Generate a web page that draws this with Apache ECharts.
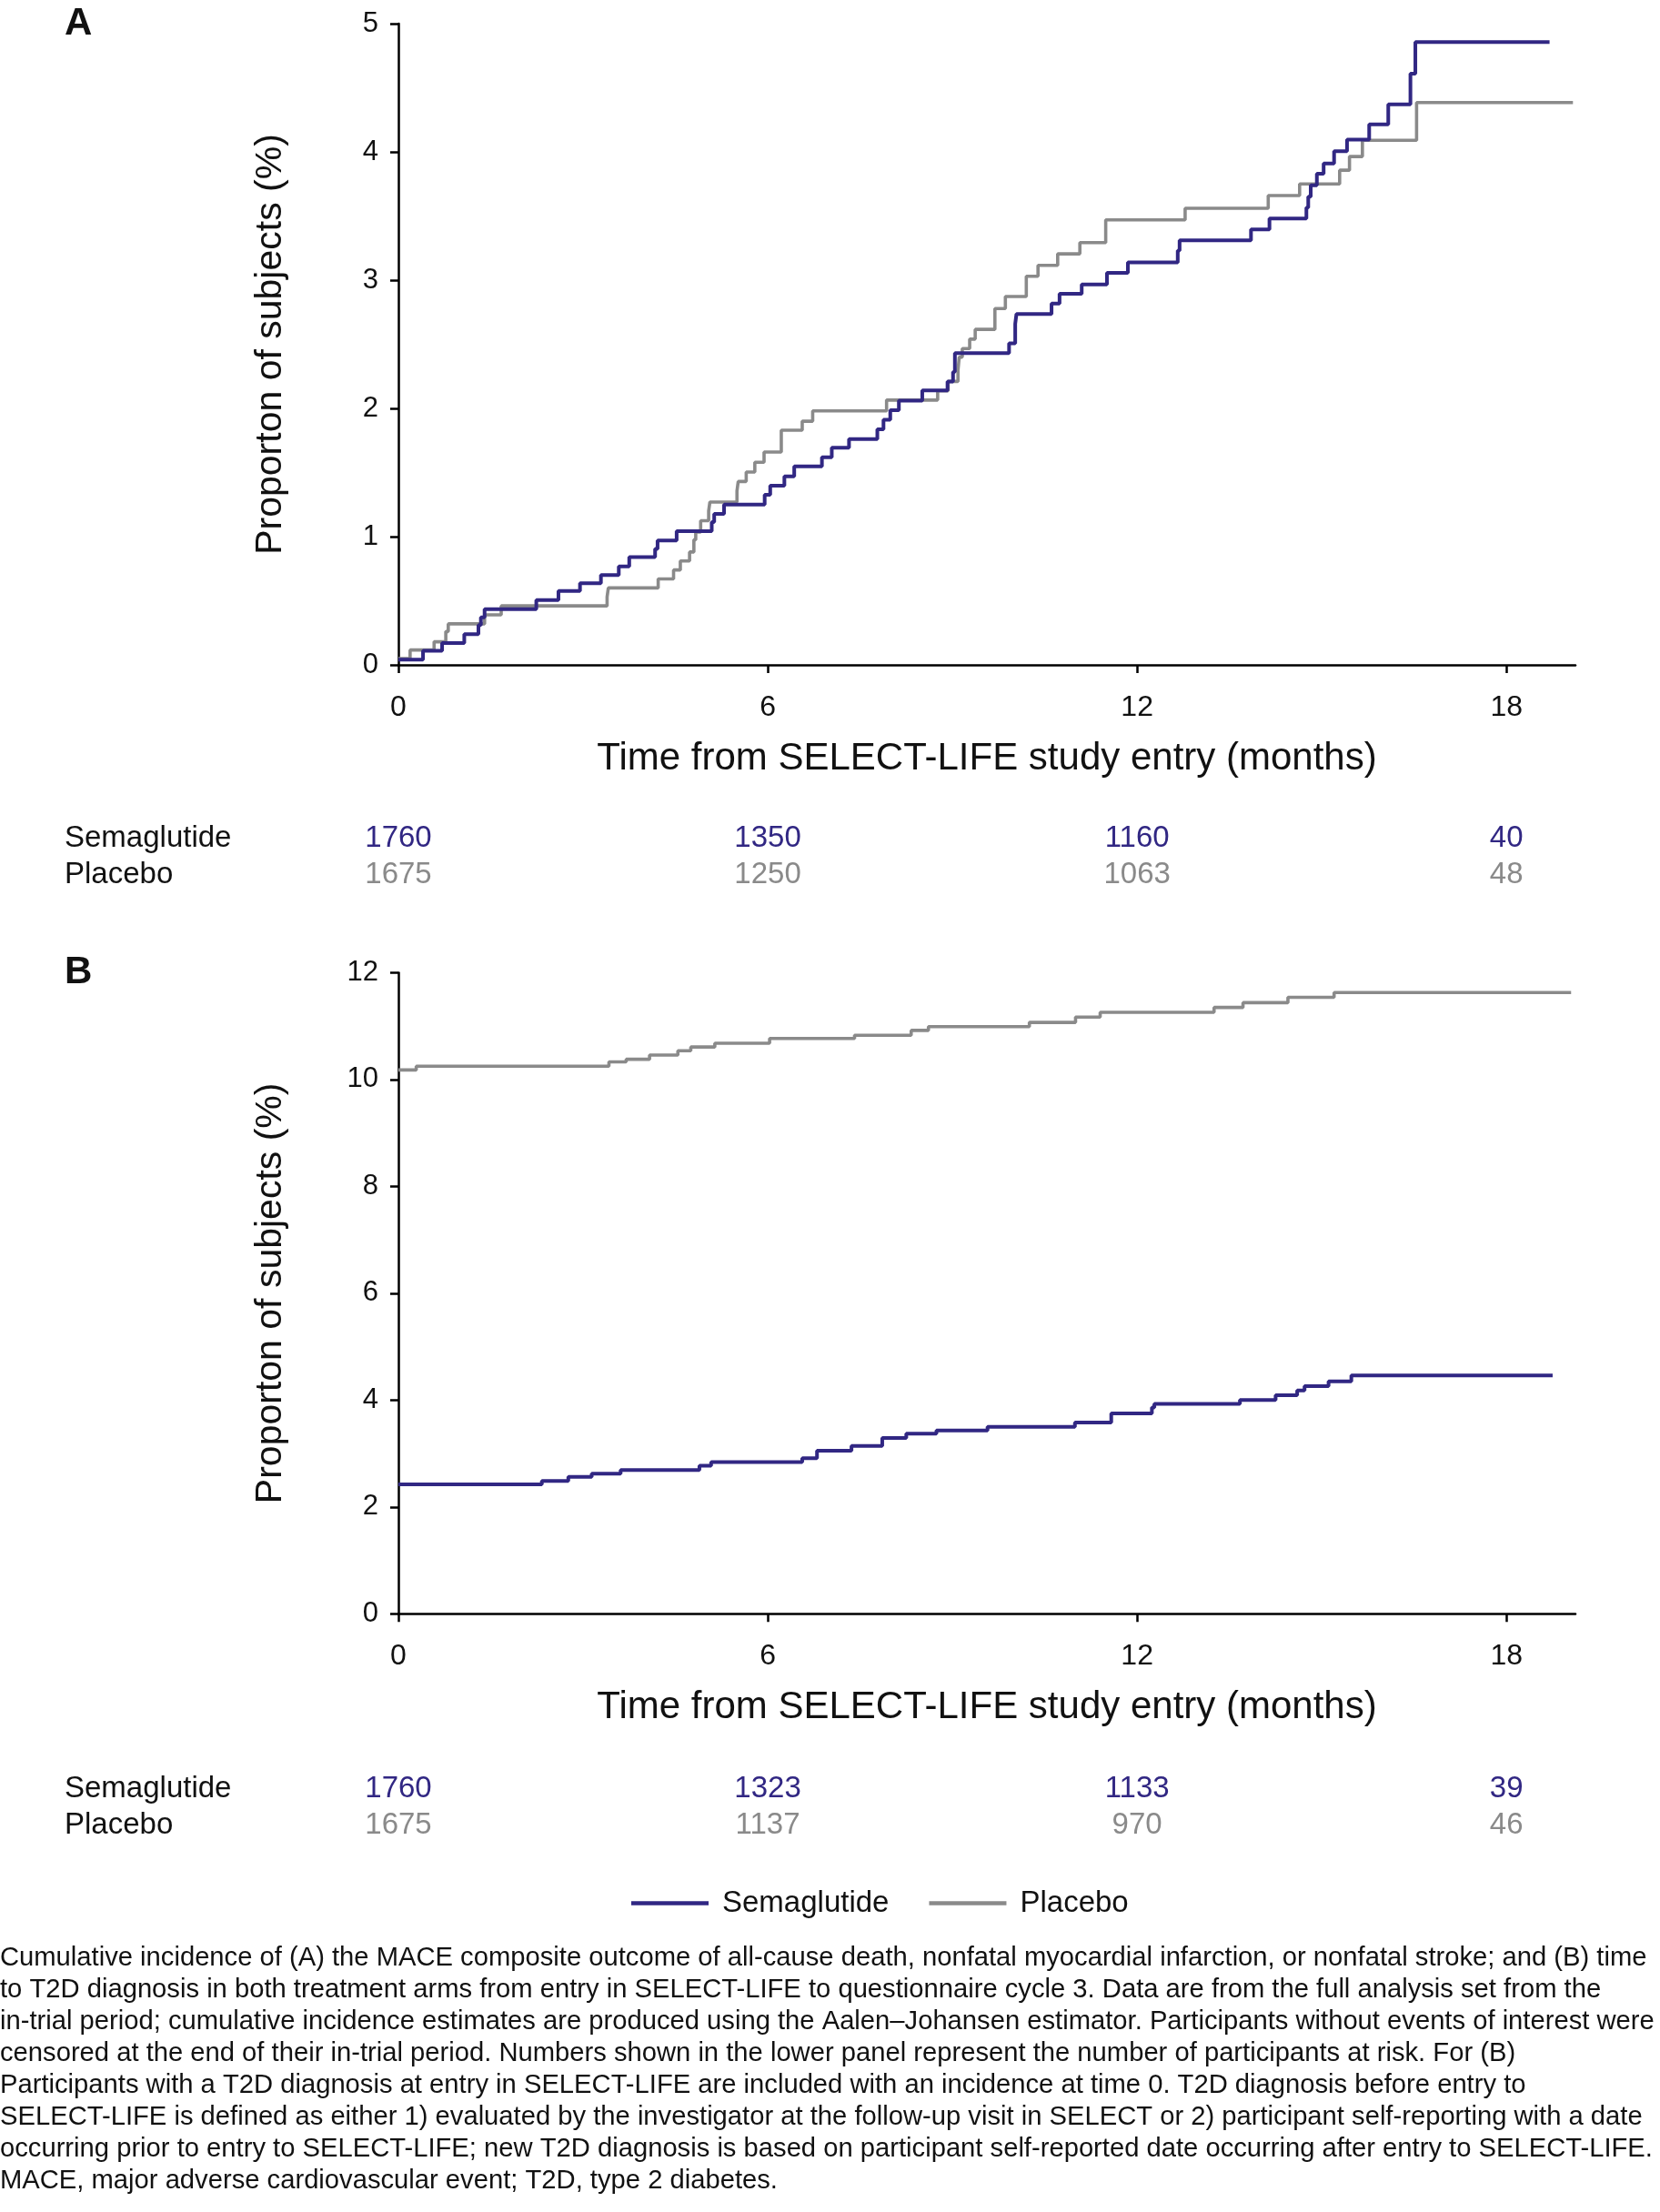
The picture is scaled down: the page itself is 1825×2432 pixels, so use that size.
<!DOCTYPE html>
<html>
<head>
<meta charset="utf-8">
<script src="https://cdn.jsdelivr.net/npm/echarts@6/dist/echarts.min.js"></script>
<style>
html,body{margin:0;padding:0;background:#fff;}
#chart{width:1825px;height:2432px;}
</style>
</head>
<body>
<div id="chart"></div>
<script>
// ---- data ----
const months = [0, 6, 12, 18];
const seriesNames = ['Semaglutide', 'Placebo'];

// Panel A: cumulative incidence of MACE (%), [month, value]
const semaA = [[0,0.04],[0.40,0.11],[0.71,0.17],[1.07,0.24],[1.30,0.31],[1.34,0.37],[1.40,0.435],[2.24,0.506],[2.60,0.577],[2.95,0.637],[3.29,0.70],[3.58,0.768],[3.75,0.84],[4.17,0.905],[4.21,0.97],[4.52,1.043],[5.09,1.114],[5.13,1.178],[5.29,1.25],[5.95,1.326],[6.04,1.397],[6.27,1.47],[6.43,1.547],[6.88,1.618],[7.04,1.694],[7.32,1.76],[7.78,1.837],[7.88,1.912],[7.99,1.986],[8.13,2.06],[8.51,2.14],[8.92,2.21],[9.01,2.283],[9.04,2.43],[9.92,2.507],[10.02,2.66],[10.04,2.735],[10.61,2.818],[10.74,2.894],[11.10,2.967],[11.51,3.056],[11.85,3.138],[12.66,3.23],[12.69,3.31],[13.85,3.395],[14.15,3.48],[14.75,3.566],[14.78,3.65],[14.82,3.74],[14.92,3.83],[15.03,3.91],[15.20,4.006],[15.41,4.096],[15.77,4.215],[16.08,4.37],[16.44,4.61],[16.52,4.856],[18.70,4.856]];
const placA = [[0,0.05],[0.19,0.116],[0.58,0.18],[0.77,0.26],[0.81,0.32],[1.40,0.39],[1.67,0.46],[3.39,0.53],[3.41,0.60],[4.22,0.67],[4.47,0.74],[4.58,0.81],[4.73,0.88],[4.80,0.976],[4.83,1.036],[4.91,1.124],[5.04,1.20],[5.06,1.27],[5.50,1.356],[5.52,1.43],[5.65,1.504],[5.79,1.58],[5.94,1.66],[6.22,1.83],[6.56,1.90],[6.73,1.98],[7.93,2.065],[8.76,2.136],[8.93,2.21],[9.09,2.295],[9.11,2.40],[9.16,2.466],[9.28,2.54],[9.37,2.616],[9.69,2.778],[9.86,2.872],[10.20,3.03],[10.39,3.115],[10.71,3.205],[11.07,3.293],[11.49,3.47],[12.78,3.56],[14.13,3.66],[14.64,3.75],[15.29,3.857],[15.45,3.964],[15.66,4.09],[16.54,4.385],[19.08,4.385]];

// Panel B: time to T2D diagnosis (%), [month, value]
const semaB = [[0,2.42],[2.33,2.486],[2.76,2.56],[3.14,2.62],[3.61,2.69],[4.89,2.77],[5.08,2.84],[6.56,2.91],[6.80,3.05],[7.36,3.14],[7.86,3.29],[8.25,3.37],[8.74,3.43],[9.57,3.50],[10.99,3.58],[11.58,3.75],[12.24,3.86],[12.28,3.93],[13.67,4.0],[14.25,4.09],[14.60,4.18],[14.72,4.26],[15.11,4.35],[15.48,4.46],[18.75,4.46]];
const placB = [[0,10.18],[0.29,10.25],[3.42,10.33],[3.70,10.38],[4.08,10.46],[4.54,10.54],[4.75,10.61],[5.14,10.68],[6.03,10.77],[7.41,10.83],[8.33,10.92],[8.61,10.99],[10.25,11.07],[11.0,11.17],[11.4,11.26],[13.25,11.35],[13.72,11.44],[14.45,11.54],[15.2,11.63],[19.05,11.63]];

// Numbers at risk
const riskA_sema = [1760, 1350, 1160, 40];
const riskA_plac = [1675, 1250, 1063, 48];
const riskB_sema = [1760, 1323, 1133, 39];
const riskB_plac = [1675, 1137, 970, 46];

// Axis ticks
const yTicksA = {min: 0, max: 5, interval: 1};
const yTicksB = {min: 0, max: 12, interval: 2};
const xMax = 19.12;

const yTitle = 'Proporton of subjects (%)';
const xTitle = 'Time from SELECT-LIFE study entry (months)';
const captionLines = [
 'Cumulative incidence of (A) the MACE composite outcome of all-cause death, nonfatal myocardial infarction, or nonfatal stroke; and (B) time',
 'to T2D diagnosis in both treatment arms from entry in SELECT-LIFE to questionnaire cycle 3. Data are from the full analysis set from the',
 'in-trial period; cumulative incidence estimates are produced using the Aalen\u2013Johansen estimator. Participants without events of interest were',
 'censored at the end of their in-trial period. Numbers shown in the lower panel represent the number of participants at risk. For (B)',
 'Participants with a T2D diagnosis at entry in SELECT-LIFE are included with an incidence at time 0. T2D diagnosis before entry to',
 'SELECT-LIFE is defined as either 1) evaluated by the investigator at the follow-up visit in SELECT or 2) participant self-reporting with a date',
 'occurring prior to entry to SELECT-LIFE; new T2D diagnosis is based on participant self-reported date occurring after entry to SELECT-LIFE.',
 'MACE, major adverse cardiovascular event; T2D, type 2 diabetes.'
];

// ---- styles ----
const FONT = '"Liberation Sans", Arial, Helvetica, sans-serif';
const BLUE = '#312783';
const GRAY = '#8a8a8a';
const TXT = '#111111';
const GL = 438, GW = 1294;

function xAxisMain(gi) {
  return {
    type: 'value', gridIndex: gi, min: 0, max: xMax,
    axisLine: {show: true, lineStyle: {color: '#000', width: 2.5}},
    axisTick: {show: true, length: 9, lineStyle: {color: '#000', width: 2.5}, customValues: months},
    axisLabel: {customValues: months, fontSize: 32, margin: 31, color: TXT, fontFamily: FONT},
    splitLine: {show: false},
    name: xTitle, nameLocation: 'middle', nameGap: 82,
    nameTextStyle: {fontSize: 42, color: TXT, fontFamily: FONT}
  };
}
function yAxisMain(gi, t) {
  return {
    type: 'value', gridIndex: gi, min: t.min, max: t.max, interval: t.interval,
    axisLine: {show: true, lineStyle: {color: '#000', width: 2.5}},
    axisTick: {show: true, length: 9, lineStyle: {color: '#000', width: 2.5}},
    axisLabel: {fontSize: 31, margin: 22, color: TXT, fontFamily: FONT},
    splitLine: {show: false},
    name: yTitle, nameLocation: 'middle', nameGap: 120,
    nameTextStyle: {fontSize: 41, color: TXT, fontFamily: FONT}
  };
}
function xAxisRisk(gi) {
  return {type: 'value', gridIndex: gi, min: 0, max: xMax, show: false};
}
function yAxisRisk(gi) {
  return {
    type: 'category', gridIndex: gi, data: seriesNames, inverse: true,
    axisLine: {show: false}, axisTick: {show: false}, splitLine: {show: false},
    axisLabel: {interval: 0, align: 'left', margin: GL - 71, fontSize: 33, color: TXT, fontFamily: FONT}
  };
}
function stepLine(name, data, color, w, gi) {
  return {
    name: name, type: 'line', step: 'end', data: data,
    xAxisIndex: gi, yAxisIndex: gi, symbol: 'none', showSymbol: false,
    lineStyle: {color: color, width: w}, itemStyle: {color: color},
    z: name === 'Semaglutide' ? 4 : 3, animation: false
  };
}
function riskSeries(name, values, rowIndex, color, gi) {
  return {
    name: name, type: 'scatter', xAxisIndex: gi, yAxisIndex: gi,
    data: months.map((m, i) => [m, rowIndex, values[i]]),
    symbolSize: 2, itemStyle: {color: 'rgba(0,0,0,0)'}, silent: true,
    label: {show: true, position: 'inside', formatter: p => String(p.value[2]),
            fontSize: 33, color: color, fontFamily: FONT, textBorderWidth: 0, opacity: 1},
    labelLayout: {hideOverlap: false},
    animation: false
  };
}

const chart = echarts.init(document.getElementById('chart'), null, {renderer: 'canvas'});
chart.setOption({
  backgroundColor: '#ffffff',
  animation: false,
  textStyle: {fontFamily: FONT},
  grid: [
    {left: GL, top: 26, width: GW, height: 705},
    {left: GL, top: 1069.5, width: GW, height: 704.7},
    {left: GL, top: 902, width: GW, height: 80},
    {left: GL, top: 1946.5, width: GW, height: 80}
  ],
  xAxis: [xAxisMain(0), xAxisMain(1), xAxisRisk(2), xAxisRisk(3)],
  yAxis: [yAxisMain(0, yTicksA), yAxisMain(1, yTicksB), yAxisRisk(2), yAxisRisk(3)],
  legend: {
    data: seriesNames, left: 689, top: 2071, orient: 'horizontal',
    icon: 'rect', itemWidth: 85, itemHeight: 4.5, itemGap: 44,
    textStyle: {fontSize: 33, color: TXT, fontFamily: FONT, padding: [0, 0, 0, 10]}
  },
  series: [
    stepLine('Placebo', placA, GRAY, 3.6, 0),
    stepLine('Semaglutide', semaA, BLUE, 4, 0),
    stepLine('Placebo', placB, GRAY, 3.6, 1),
    stepLine('Semaglutide', semaB, BLUE, 4, 1),
    riskSeries('Semaglutide at risk A', riskA_sema, 0, BLUE, 2),
    riskSeries('Placebo at risk A', riskA_plac, 1, GRAY, 2),
    riskSeries('Semaglutide at risk B', riskB_sema, 0, BLUE, 3),
    riskSeries('Placebo at risk B', riskB_plac, 1, GRAY, 3)
  ],
  graphic: [
    {type: 'text', left: 71, top: 5, style: {text: 'A', fontSize: 42, fontWeight: 'bold', fill: TXT, fontFamily: FONT}},
    {type: 'text', left: 71, top: 1048, style: {text: 'B', fontSize: 42, fontWeight: 'bold', fill: TXT, fontFamily: FONT}},
    {type: 'text', left: 0, top: 2135, style: {text: captionLines.join('\n'), fontSize: 29.2, lineHeight: 35.1, fill: TXT, fontFamily: FONT}}
  ]
});
</script>
</body>
</html>
